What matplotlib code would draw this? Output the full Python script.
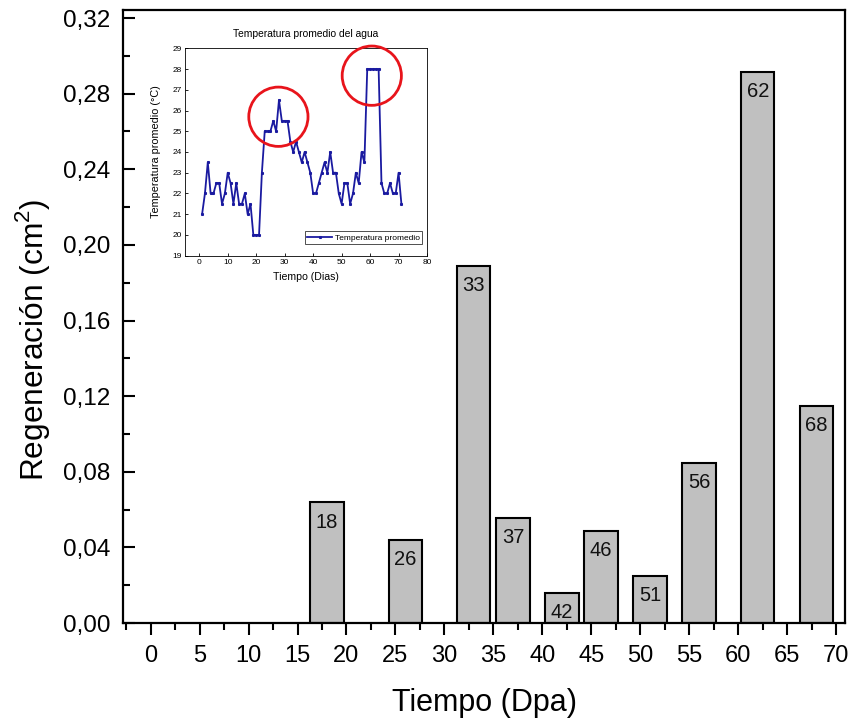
import matplotlib
matplotlib.use("Agg")
import matplotlib.pyplot as plt
from matplotlib.patches import Ellipse
from matplotlib.ticker import MultipleLocator

plt.rcParams['font.family'] = ['Liberation Sans', 'DejaVu Sans']

# ---- main bar data ----
dias = [18, 26, 33, 37, 42, 46, 51, 56, 62, 68]
regeneracion = [0.0638, 0.0439, 0.1888, 0.0557, 0.0159, 0.0487, 0.0249, 0.0846, 0.2916, 0.1148]
bar_labels = ["18", "26", "33", "37", "42", "46", "51", "56", "62", "68"]
yticks = [0.00, 0.04, 0.08, 0.12, 0.16, 0.20, 0.24, 0.28, 0.32]
ytick_labels = ["0,00", "0,04", "0,08", "0,12", "0,16", "0,20", "0,24", "0,28", "0,32"]
xticks = [0, 5, 10, 15, 20, 25, 30, 35, 40, 45, 50, 55, 60, 65, 70]

# ---- inset temperature data ----
temp_dias = list(range(1, 72))
temp_vals = [21.0, 22.0, 23.5, 22.0, 22.0, 22.5, 22.5, 21.5, 22.0, 23.0,
             22.5, 21.5, 22.5, 21.5, 21.5, 22.0, 21.0, 21.5, 20.0, 20.0,
             20.0, 23.0, 25.0, 25.0, 25.0, 25.5, 25.0, 26.5, 25.5, 25.5,
             25.5, 24.5, 24.0, 24.5, 24.0, 23.5, 24.0, 23.5, 23.0, 22.0,
             22.0, 22.5, 23.0, 23.5, 23.0, 24.0, 23.0, 23.0, 22.0, 21.5,
             22.5, 22.5, 21.5, 22.0, 23.0, 22.5, 24.0, 23.5, 28.0, 28.0,
             28.0, 28.0, 28.0, 22.5, 22.0, 22.0, 22.5, 22.0, 22.0, 23.0,
             21.5]

fig = plt.figure(figsize=(8.51, 7.19), dpi=100)
ax = fig.add_axes([0.1445, 0.1335, 0.8485, 0.8525])

ax.bar(dias, regeneracion, width=3.4, color='#c0c0c0', edgecolor='black', linewidth=1.5, zorder=2)
for x, v, lab in zip(dias, regeneracion, bar_labels):
    ax.annotate(lab, (x, v), xytext=(0, -7.5), textcoords='offset points',
                ha='center', va='top', fontsize=14.5, color='#111111', zorder=3)

ax.set_xlim(-2.83, 70.92)
ax.set_ylim(0, 0.3242)
ax.set_xticks(xticks)
ax.set_xticklabels([str(t) for t in xticks])
ax.set_yticks(yticks)
ax.set_yticklabels(ytick_labels)
ax.xaxis.set_minor_locator(MultipleLocator(2.5))
ax.yaxis.set_minor_locator(MultipleLocator(0.02))
ax.tick_params(axis='x', which='major', direction='out', length=8.5, width=1.5, labelsize=17, pad=7.5)
ax.tick_params(axis='x', which='minor', direction='out', length=5, width=1.5)
ax.tick_params(axis='y', which='major', direction='in', length=8.5, width=1.5, labelsize=17.5, pad=9)
ax.tick_params(axis='y', which='minor', direction='in', length=5, width=1.5)
for s in ax.spines.values():
    s.set_linewidth(1.6)
ax.set_xlabel('Tiempo (Dpa)', fontsize=22, labelpad=15)
ax.set_ylabel(r'Regeneración (cm$^\mathregular{2}$)', fontsize=22.8)
ax.yaxis.set_label_coords(-0.098, 0.462)

# ---- inset ----
ins = fig.add_axes([0.2174, 0.6444, 0.2844, 0.2884])
ins.plot(temp_dias, temp_vals, color='#1a1aa0', lw=1.3, marker='s', markersize=1.2,
         label='Temperatura promedio')
ins.set_xlim(-5, 80)
ins.set_ylim(19, 29)
ins.set_xticks([0, 10, 20, 30, 40, 50, 60, 70, 80])
ins.set_yticks([19, 20, 21, 22, 23, 24, 25, 26, 27, 28, 29])
ins.tick_params(direction='in', length=2, width=0.6, labelsize=6, pad=2.5)
for s in ins.spines.values():
    s.set_linewidth(0.6)
ins.set_title('Temperatura promedio del agua', fontsize=7.4, pad=8)
ins.set_xlabel('Tiempo (Dias)', fontsize=7.6, labelpad=4)
ins.set_ylabel('Temperatura promedio (°C)', fontsize=7.8, labelpad=8)
leg = ins.legend(loc='lower right', bbox_to_anchor=(0.98, 0.055), fontsize=6, frameon=True,
                 fancybox=False, borderpad=0.3, handlelength=3, handletextpad=0.3,
                 borderaxespad=0)
leg.get_frame().set_edgecolor('black')
leg.get_frame().set_linewidth(0.6)

for cx, cy in [(27.8, 25.7), (60.6, 27.68)]:
    e = Ellipse((cx, cy), width=20.8, height=2.86, fill=False, edgecolor='#e8141b',
                linewidth=2.0, clip_on=False, zorder=5)
    ins.add_patch(e)

fig.savefig('out.png', dpi=100)
